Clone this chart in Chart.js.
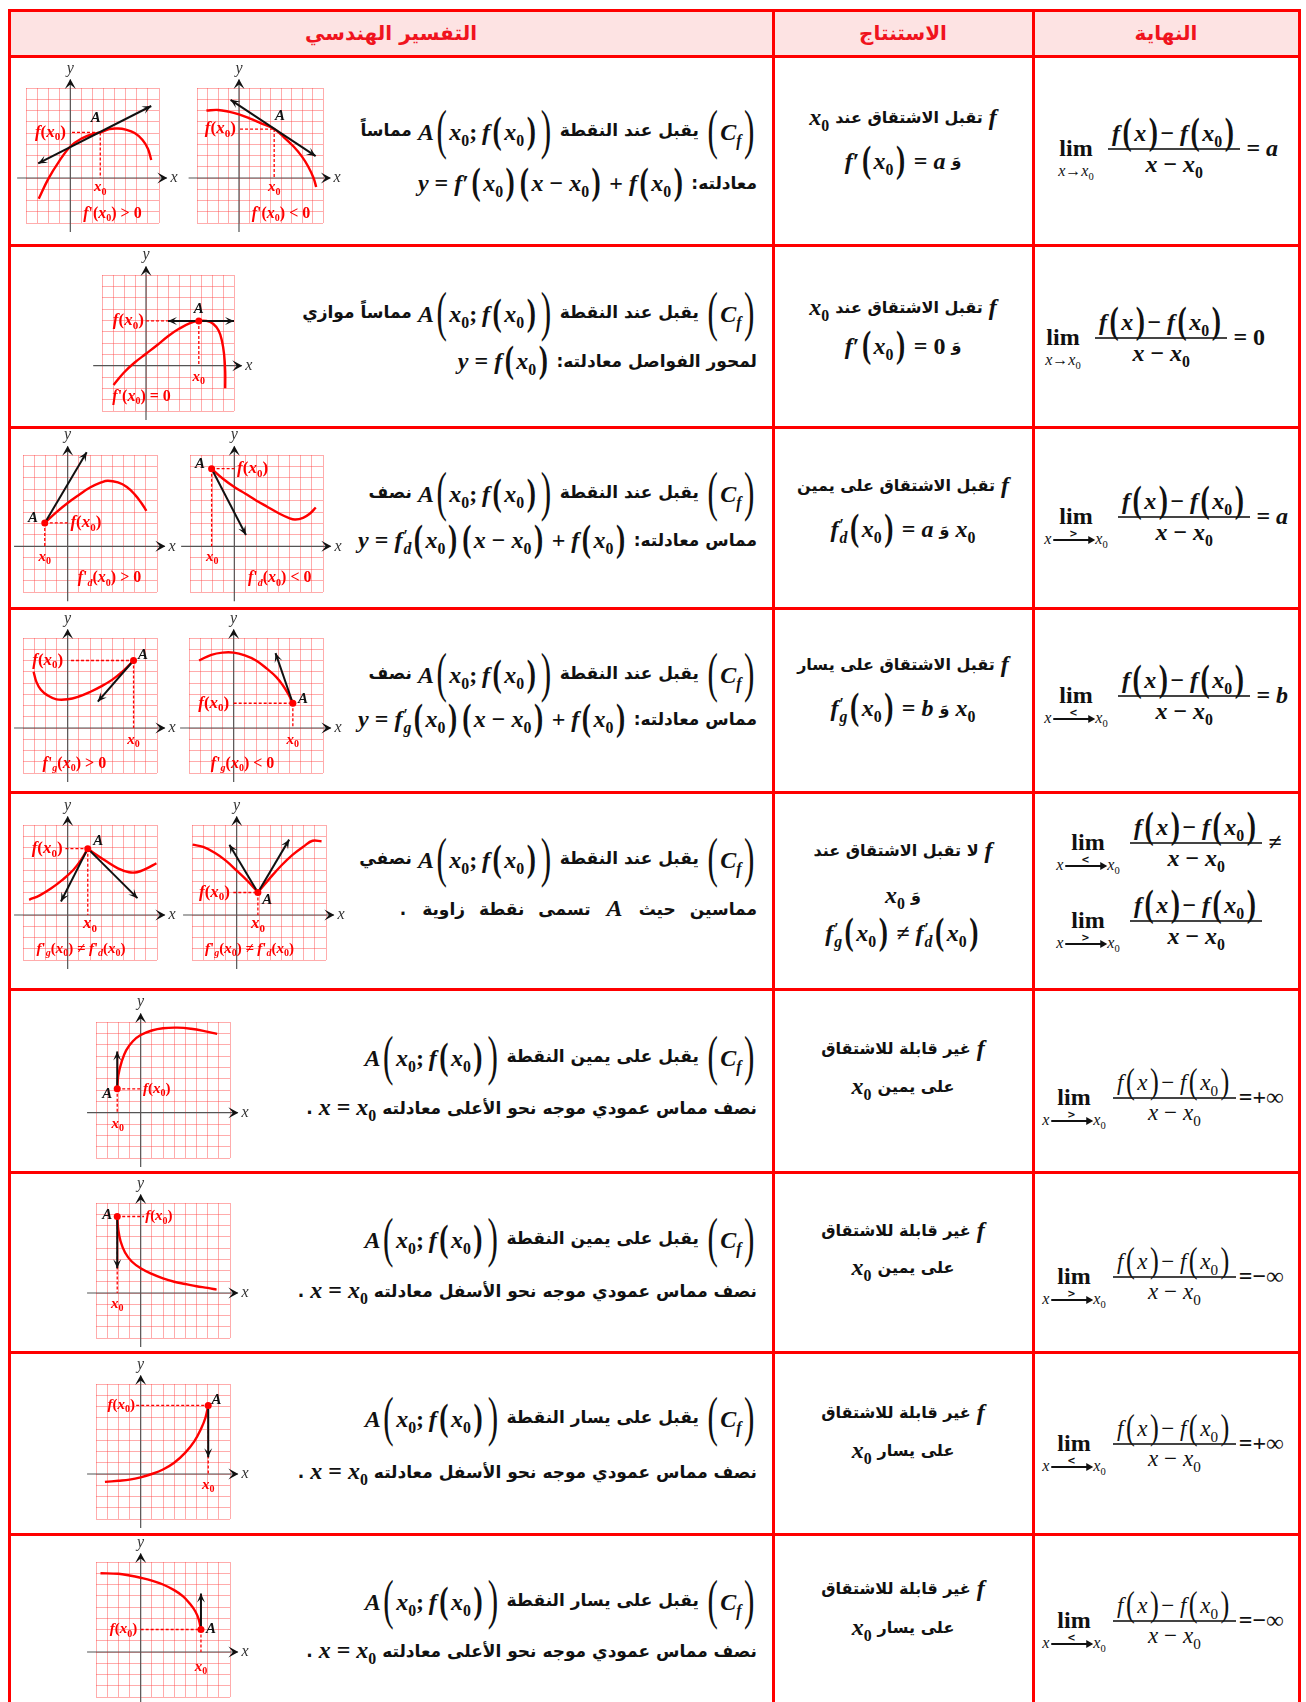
<!DOCTYPE html>
<html lang="ar">
<head>
<meta charset="utf-8">
<title>التفسير الهندسي للعدد المشتق</title>
<script src="https://cdn.jsdelivr.net/npm/chart.js@4.4.1/dist/chart.umd.min.js"></script>
<style>
  body { margin: 0; background: #fff; }
  #page { position: relative; width: 1306px; height: 1702px; overflow: hidden; background: #fff; }
  .rule { position: absolute; background: #ff0000; }
  .head { position: absolute; left: 9px; top: 10px; width: 1290px; height: 46px; background: #fde3e3; }
  .ht { position: absolute; top: 33px; transform: translate(-50%, -50%); color: #f0141e; font: bold 20px "DejaVu Sans"; direction: rtl; white-space: nowrap; }
  .ln { position: absolute; display: flex; align-items: center; gap: 6px; white-space: nowrap; direction: ltr; color: #111; }
  .ln.wide { gap: 16px; }
  .ln.wide .ar { word-spacing: 8px; }
  .ar { font: bold 17px "DejaVu Sans"; direction: rtl; unicode-bidi: isolate; }
  .mid .ar { font-size: 16px; }
  .m { font-family: "Liberation Serif"; font-weight: bold; font-size: 24px; }
  .m i, .ls i { font-style: italic; }
  .op { margin: 0 6px; }
  sub { font-size: 0.66em; vertical-align: -0.38em; line-height: 0; font-style: normal; }
  .pp { display: inline-block; font-weight: bold; font-style: normal; font-size: 1.15em; transform: scaleY(1.35); margin: 0 2.5px; line-height: 1; }
  .pp.big { transform: scaleY(1.75); font-size: 1.3em; font-weight: normal; }
  .dd { display: inline-flex; flex-direction: column; font-size: 0.66em; line-height: 0.85; vertical-align: middle; margin-left: 1px; }
  .lim { position: relative; display: inline-block; text-align: center; width: 52px; font: bold 24px "Liberation Serif"; }
  .lim.w { width: 72px; }
  .ls { position: absolute; left: 50%; top: 100%; transform: translateX(-50%); font: 16px "Liberation Serif"; white-space: nowrap; }
  .la { display: inline-block; position: relative; width: 40px; height: 1.4px; background: #111; vertical-align: middle; margin: 0 2px; }
  .la::after { content: ""; position: absolute; right: -2px; top: -3.3px; border-left: 7px solid #111; border-top: 4px solid transparent; border-bottom: 4px solid transparent; }
  .mk { position: absolute; left: 50%; bottom: 2px; transform: translateX(-50%); font: bold 10px "DejaVu Sans"; line-height: 1; }
  .fr { display: inline-flex; flex-direction: column; align-items: center; }
  .fn { padding: 0 4px 1px; border-bottom: 2px solid #444; }
  .fd { padding-top: 1px; }
  .fr.rg { font-size: 23px; }
  .rg .fn, .rg .fd, .rg .pp { font-weight: normal; }
  .ln.tight { gap: 3px; }
  canvas { position: absolute; }
</style>
</head>
<body>
<div id="page"></div>
<script>
// every small graph is drawn on the same squared paper (grid units)
const gridX = [-4, 8];
const gridY = [-4, 8];

// row 1 : tangent, f'(x0) > 0 and f'(x0) < 0
const curve1 = [[-2.85,-1.85],[-2,-0.1],[-1,1.5],[0,2.8],[1,3.5],[2,3.9],[2.7,4.05],[3.5,4.35],[4.3,4.4],[5,4.3],[5.8,4.0],[6.5,3.4],[7,2.6],[7.3,1.6]];
const tangent1 = [[-2.9,1.3],[7.3,6.4]];
const curve2 = [[-3.1,6.0],[-2,6.05],[-1,5.9],[0,5.65],[1,5.3],[2,4.9],[3.35,4.35],[4.3,3.6],[5.2,2.8],[6,1.9],[6.6,1.0],[7.1,0],[7.35,-0.8]];
const tangent2 = [[-0.8,6.95],[7.3,1.95]];

// row 2 : horizontal tangent
const curveH = [[-2.95,-1.7],[-2,-0.6],[-1,0.3],[0,1.05],[1,1.8],[2,2.6],[3,3.25],[4,3.75],[4.8,3.95],[5.5,3.95],[6.1,3.7],[6.6,3.1],[6.9,2.2],[7.1,1.0],[7.2,-0.5],[7.2,-2.0]];
const tangentH = [[2.0,3.95],[8.0,3.95]];

// row 3 : right half tangents
const curve3 = [[-2.05,2.05],[-1,3.0],[0,3.8],[1,4.5],[2,5.15],[3,5.6],[3.6,5.75],[4.5,5.6],[5.3,5.2],[6,4.55],[6.6,3.8],[7.05,3.1]];
const tangent3 = [[-2.05,2.05],[1.7,8.25]];
const curve4 = [[-2.05,6.8],[-1,5.9],[0,5.2],[1,4.6],[2,4.0],[3,3.45],[4,2.9],[5,2.45],[5.5,2.35],[6.2,2.5],[6.8,2.85],[7.35,3.4]];
const tangent4 = [[-2.05,6.8],[1.05,1.0]];

// row 4 : left half tangents
const curve5 = [[-3.05,5.0],[-2.8,4.1],[-2.4,3.4],[-1.8,2.9],[-1,2.55],[0,2.55],[1,2.8],[2,3.2],[3,3.7],[4,4.3],[5,5.1],[5.9,6.0]];
const tangent5 = [[5.9,6.0],[2.7,2.35]];
const curve6 = [[-3.1,6.0],[-2,6.5],[-1,6.7],[0,6.7],[1,6.45],[2,6.0],[3,5.25],[3.8,4.55],[4.4,3.8],[4.9,3.0],[5.3,2.2]];
const tangent6 = [[5.3,2.2],[3.75,6.65]];

// row 5 : corner points
const curve7L = [[-3.45,1.35],[-2.5,1.75],[-1.5,2.35],[-0.5,3.1],[0.5,4.0],[1.2,4.9],[1.8,5.9]];
const curve7R = [[1.8,5.9],[2.5,5.4],[3.5,4.75],[4.5,4.15],[5.5,3.8],[6.2,3.8],[7,4.1],[7.95,4.6]];
const tangent7L = [[1.8,5.9],[-0.6,1.2]];
const tangent7R = [[1.8,5.9],[6.25,1.5]];
const curve8L = [[-3.95,6.25],[-3,6.05],[-2,5.55],[-1,4.85],[0,3.95],[1,3.0],[1.9,2.0]];
const curve8R = [[1.9,2.0],[3,3.3],[4,4.4],[5,5.35],[6,6.1],[6.8,6.6],[7.6,6.55]];
const tangent8L = [[1.9,2.0],[-0.65,6.25]];
const tangent8R = [[1.9,2.0],[4.7,6.7]];

// rows 6 to 9 : vertical half tangents
const curveR6 = [[-2.1,2.1],[-2.0,3.3],[-1.7,4.5],[-1.3,5.5],[-0.7,6.3],[0,6.85],[1,7.25],[2,7.45],[3.3,7.5],[4.5,7.4],[5.7,7.2],[6.85,6.95]];
const tangentR6 = [[-2.1,2.1],[-2.1,5.4]];
const curveR7 = [[-2.1,6.8],[-2.0,5.6],[-1.8,4.6],[-1.4,3.6],[-0.8,2.8],[0,2.2],[1,1.7],[2,1.3],[3,1.0],[4,0.8],[5,0.6],[6,0.45],[6.8,0.3]];
const tangentR7 = [[-2.1,6.8],[-2.1,2.2]];
const curveR8 = [[-3.2,-0.7],[-2,-0.6],[-1,-0.5],[0,-0.3],[1,0],[2,0.4],[3,1.0],[4,1.9],[4.8,2.9],[5.4,4.0],[5.8,5.0],[6.05,6.1]];
const tangentR8 = [[6.05,6.1],[6.05,1.5]];
const curveR9 = [[-3.6,7.0],[-2,6.95],[-1,6.8],[0,6.6],[1,6.35],[2,6.0],[3,5.5],[3.8,4.95],[4.4,4.3],[4.9,3.6],[5.2,2.9],[5.4,2.0]];
const tangentR9 = [[5.4,2.0],[5.4,5.2]];

const RED = '#ff0000';
const page = document.getElementById('page');

// ---------- table frame ----------
function rule(x, y, w, h) {
  const d = document.createElement('div');
  d.className = 'rule';
  d.style.cssText = `left:${x}px;top:${y}px;width:${w}px;height:${h}px`;
  page.appendChild(d);
}
const head = document.createElement('div');
head.className = 'head';
page.appendChild(head);
[10, 56, 245, 427, 608, 792, 989, 1172, 1352, 1534].forEach(y => rule(8, y - 1, 1293, 3));
[9, 773, 1033, 1299].forEach(x => rule(x - 1, 9, 3, 1700));

function headText(txt, x) {
  const d = document.createElement('div');
  d.className = 'ht';
  d.textContent = txt;
  d.style.left = x + 'px';
  page.appendChild(d);
}
headText('التفسير الهندسي', 391);
headText('الاستنتاج', 903);
headText('النهاية', 1166);

// ---------- text lines ----------
function put(html, x, y, anchor, cls) {
  const d = document.createElement('div');
  d.className = 'ln' + (cls ? ' ' + cls : '');
  d.innerHTML = html;
  d.style.left = x + 'px';
  d.style.top = y + 'px';
  d.style.transform = anchor === 'right' ? 'translate(-100%,-50%)'
                    : anchor === 'left' ? 'translate(0,-50%)' : 'translate(-50%,-50%)';
  page.appendChild(d);
}
const X0 = '<i>x</i><sub>0</sub>';
const OP = s => `<span class="op">${s}</span>`;
const P = (s, big) => `<span class="pp${big ? ' big' : ''}">(</span>${s}<span class="pp${big ? ' big' : ''}">)</span>`;
const M = s => `<span class="m">${s}</span>`;
const AR = s => `<span class="ar">${s}</span>`;
const FP = s => `<i>f</i><span class="dd"><span>′</span><i>${s}</i></span>`;
const CF = M(P('<i>C</i><sub><i>f</i></sub>', true));
const APT = M('<i>A</i>' + P(X0 + ';&thinsp;<i>f</i>' + P(X0), true));
const TAN = d => M('<i>y</i>' + OP('=') + (d ? FP(d) : '<i>f</i>′') + P(X0) + P('<i>x</i>' + OP('−') + X0) + OP('+') + '<i>f</i>' + P(X0));

// geometric interpretation column
const RX = 757;
put(AR('مماساً') + APT + AR('يقبل عند النقطة') + CF, RX, 130, 'right');
put(TAN('') + AR('معادلته:'), RX, 182, 'right');
put(AR('مماساً موازي') + APT + AR('يقبل عند النقطة') + CF, RX, 312, 'right');
put(M('<i>y</i>' + OP('=') + '<i>f</i>' + P(X0)) + AR('لمحور الفواصل معادلته:'), RX, 360, 'right');
put(AR('نصف') + APT + AR('يقبل عند النقطة') + CF, RX, 492, 'right');
put(TAN('d') + AR('مماس معادلته:'), RX, 540, 'right');
put(AR('نصف') + APT + AR('يقبل عند النقطة') + CF, RX, 673, 'right');
put(TAN('g') + AR('مماس معادلته:'), RX, 719, 'right');
put(AR('نصفي') + APT + AR('يقبل عند النقطة') + CF, RX, 858, 'right');
put(AR('.') + AR('تسمى نقطة زاوية') + M('<i>A</i>') + AR('مماسين حيث'), RX, 908, 'right', 'wide');
put(APT + AR('يقبل على يمين النقطة') + CF, RX, 1056, 'right');
put(AR('.') + M('<i>x</i>' + OP('=') + X0) + AR('نصف مماس عمودي موجه نحو الأعلى معادلته'), RX, 1107, 'right');
put(APT + AR('يقبل على يمين النقطة') + CF, RX, 1238, 'right');
put(AR('.') + M('<i>x</i>' + OP('=') + X0) + AR('نصف مماس عمودي موجه نحو الأسفل معادلته'), RX, 1290, 'right');
put(APT + AR('يقبل على يسار النقطة') + CF, RX, 1417, 'right');
put(AR('.') + M('<i>x</i>' + OP('=') + X0) + AR('نصف مماس عمودي موجه نحو الأسفل معادلته'), RX, 1471, 'right');
put(APT + AR('يقبل على يسار النقطة') + CF, RX, 1600, 'right');
put(AR('.') + M('<i>x</i>' + OP('=') + X0) + AR('نصف مماس عمودي موجه نحو الأعلى معادلته'), RX, 1650, 'right');

// conclusion column
const MX = 903;
const mid = (html, y) => put(html, MX, y, 'center', 'mid');
mid(M(X0) + AR('تقبل الاشتقاق عند') + M('<i>f</i>'), 117);
mid(M('<i>f</i>′' + P(X0) + OP('=') + '<i>a</i>') + AR('وَ'), 160);
mid(M(X0) + AR('تقبل الاشتقاق عند') + M('<i>f</i>'), 307);
mid(M('<i>f</i>′' + P(X0) + OP('=') + '0') + AR('وَ'), 345);
mid(AR('تقبل الاشتقاق على يمين') + M('<i>f</i>'), 485);
mid(M(FP('d') + P(X0) + OP('=') + '<i>a</i>') + AR('وَ') + M(X0), 529);
mid(AR('تقبل الاشتقاق على يسار') + M('<i>f</i>'), 664);
mid(M(FP('g') + P(X0) + OP('=') + '<i>b</i>') + AR('وَ') + M(X0), 708);
mid(AR('لا تقبل الاشتقاق عند') + M('<i>f</i>'), 850);
mid(M(X0) + AR('وَ'), 895);
mid(M(FP('g') + P(X0) + OP('≠') + FP('d') + P(X0)), 933);
mid(AR('غير قابلة للاشتقاق') + M('<i>f</i>'), 1048);
mid(M(X0) + AR('على يمين'), 1086);
mid(AR('غير قابلة للاشتقاق') + M('<i>f</i>'), 1230);
mid(M(X0) + AR('على يمين'), 1267);
mid(AR('غير قابلة للاشتقاق') + M('<i>f</i>'), 1412);
mid(M(X0) + AR('على يسار'), 1450);
mid(AR('غير قابلة للاشتقاق') + M('<i>f</i>'), 1588);
mid(M(X0) + AR('على يسار'), 1627);

// limit column
const NUM = '<i>f</i>' + P('<i>x</i>') + '− <i>f</i>' + P(X0);
const DEN = '<i>x</i>' + OP('−') + X0;
const SUB0 = '<i>x</i>→' + X0;
const SUBR = '<i>x</i><span class="la"><span class="mk">&gt;</span></span>' + X0;
const SUBL = '<i>x</i><span class="la"><span class="mk">&lt;</span></span>' + X0;
const LIM = (sub, wide) => `<span class="lim${wide ? ' w' : ''}">lim<span class="ls">${sub}</span></span>`;
const FR = cls => `<span class="fr m ${cls || ''}"><span class="fn">${NUM}</span><span class="fd">${DEN}</span></span>`;
put(LIM(SUB0) + FR() + M('= <i>a</i>'), 1050, 148, 'left');
put(LIM(SUB0) + FR() + M('= 0'), 1037, 337, 'left');
put(LIM(SUBR, true) + FR() + M('= <i>a</i>'), 1040, 516, 'left');
put(LIM(SUBL, true) + FR() + M('= <i>b</i>'), 1040, 695, 'left');
put(LIM(SUBL, true) + FR() + M('≠'), 1052, 842, 'left');
put(LIM(SUBR, true) + FR(), 1052, 920, 'left');
put(LIM(SUBR, true) + FR('rg') + M('=+∞'), 1038, 1097, 'left', 'tight');
put(LIM(SUBR, true) + FR('rg') + M('=−∞'), 1038, 1276, 'left', 'tight');
put(LIM(SUBL, true) + FR('rg') + M('=+∞'), 1038, 1443, 'left', 'tight');
put(LIM(SUBL, true) + FR('rg') + M('=−∞'), 1038, 1620, 'left', 'tight');

// ---------- small graphs ----------
const L = (t, x, y, align, color, size, bold) =>
  ({ t, x, y, align: align || 'center', color: color || RED, size: size || 15, bold: bold !== false });

const graphs = [
  { box: [26, 88, 133, 135], curves: [curve1], tangents: [[tangent1, 'both']], dot: null,
    dashH: [0.15, 2.7, 4.05], dashV: [2.7, 4.05],
    labels: [L('f(x_0)', -0.4, 4.05, 'right', RED, 17), L('A', 2.3, 5.3, 'center', '#111'),
             L('x_0', 2.7, -0.85), L("f'(x_0) > 0", 3.8, -3.2, 'center', RED, 16)] },
  { box: [197, 88, 126, 135], curves: [curve2], tangents: [[tangent2, 'both']], dot: null,
    dashH: [0.1, 3.35, 4.35], dashV: [3.35, 4.35],
    labels: [L('f(x_0)', -0.3, 4.35, 'right', RED, 17), L('A', 3.9, 5.5, 'center', '#111'),
             L('x_0', 3.35, -0.85), L("f'(x_0) < 0", 4.0, -3.2, 'center', RED, 16)] },
  { box: [102, 275, 132, 136], curves: [curveH], tangents: [[tangentH, 'both']], dot: [4.8, 3.95],
    dashH: [0.0, 2.0, 3.95], dashV: [4.8, 3.95],
    labels: [L('f(x_0)', -0.2, 3.95, 'right', RED, 17), L('A', 4.8, 5.0, 'center', '#111'),
             L('x_0', 4.8, -1.0), L("f'(x_0) = 0", -0.4, -2.75, 'center', RED, 16)] },
  { box: [23, 455, 134, 137], curves: [curve3], tangents: [[tangent3, 'end']], dot: [-2.05, 2.05],
    dashH: [-2.05, 0.2, 2.05], dashV: [-2.05, 2.05],
    labels: [L('A', -3.1, 2.45, 'center', '#111'), L('f(x_0)', 0.25, 2.05, 'left', RED, 17),
             L('x_0', -2.05, -0.95), L("f'_d(x_0) > 0", 3.75, -2.8, 'center', RED, 16)] },
  { box: [190, 455, 133, 137], curves: [curve4], tangents: [[tangent4, 'end']], dot: [-2.05, 6.8],
    dashH: [-2.05, 0.2, 6.8], dashV: [-2.05, 6.8],
    labels: [L('A', -3.1, 7.2, 'center', '#111'), L('f(x_0)', 0.25, 6.8, 'left', RED, 17),
             L('x_0', -2.0, -0.95), L("f'_d(x_0) < 0", 4.1, -2.8, 'center', RED, 16)] },
  { box: [23, 638, 134, 135], curves: [curve5], tangents: [[tangent5, 'end']], dot: [5.9, 6.0],
    dashH: [0.3, 5.9, 6.0], dashV: [5.9, 6.0],
    labels: [L('f(x_0)', -0.4, 6.0, 'right', RED, 17), L('A', 6.75, 6.5, 'center', '#111'),
             L('x_0', 5.9, -1.1), L("f'_g(x_0) > 0", 0.6, -3.2, 'center', RED, 16)] },
  { box: [189, 638, 134, 135], curves: [curve6], tangents: [[tangent6, 'end']], dot: [5.3, 2.2],
    dashH: [0.0, 5.3, 2.2], dashV: [5.3, 2.2],
    labels: [L('f(x_0)', -0.4, 2.2, 'right', RED, 17), L('A', 6.2, 2.55, 'center', '#111'),
             L('x_0', 5.3, -1.1), L("f'_g(x_0) < 0", 0.8, -3.2, 'center', RED, 16)] },
  { box: [23, 825, 134, 135], curves: [curve7L, curve7R], tangents: [[tangent7L, 'end'], [tangent7R, 'end']], dot: [1.8, 5.9],
    dashH: [-0.2, 1.8, 5.9], dashV: [1.8, 5.9],
    labels: [L('f(x_0)', -0.45, 5.9, 'right', RED, 17), L('A', 2.75, 6.6, 'center', '#111'),
             L('x_0', 2.0, -0.8, 'center', RED, 17), L("f'_g(x_0) ≠ f'_d(x_0)", 1.2, -3.0, 'center', RED, 15)] },
  { box: [192, 825, 134, 135], curves: [curve8L, curve8R], tangents: [[tangent8L, 'end'], [tangent8R, 'end']], dot: [1.9, 2.0],
    dashH: [-0.3, 1.9, 2.0], dashV: [1.9, 2.0],
    labels: [L('f(x_0)', -0.6, 2.0, 'right', RED, 17), L('A', 2.75, 1.3, 'center', '#111'),
             L('x_0', 1.9, -0.8, 'center', RED, 17), L("f'_g(x_0) ≠ f'_d(x_0)", 1.15, -3.0, 'center', RED, 15)] },
  { box: [96, 1022, 134, 136], curves: [curveR6], tangents: [[tangentR6, 'end']], dot: [-2.1, 2.1],
    dashH: [-2.1, 0.1, 2.1], dashV: [-2.1, 2.1],
    labels: [L('A', -3.0, 1.6, 'center', '#111'), L('f(x_0)', 0.2, 2.1, 'left', RED, 15), L('x_0', -2.05, -1.0)] },
  { box: [96, 1203, 134, 135], curves: [curveR7], tangents: [[tangentR7, 'end']], dot: [-2.1, 6.8],
    dashH: [-2.1, 0.3, 6.8], dashV: [-2.1, 6.8],
    labels: [L('A', -3.0, 6.9, 'center', '#111'), L('f(x_0)', 0.4, 6.8, 'left', RED, 15), L('x_0', -2.1, -1.0)] },
  { box: [96, 1384, 134, 135], curves: [curveR8], tangents: [[tangentR8, 'end']], dot: [6.05, 6.1],
    dashH: [-0.4, 6.05, 6.1], dashV: [6.05, 6.1],
    labels: [L('f(x_0)', -0.5, 6.1, 'right', RED, 15), L('A', 6.8, 6.6, 'center', '#111'), L('x_0', 6.05, -1.0)] },
  { box: [96, 1562, 134, 135], curves: [curveR9], tangents: [[tangentR9, 'end']], dot: [5.4, 2.0],
    dashH: [0.0, 5.4, 2.0], dashV: [5.4, 2.0],
    labels: [L('f(x_0)', -0.3, 2.0, 'right', RED, 15), L('A', 6.3, 2.0, 'center', '#111'), L('x_0', 5.4, -1.3)] }
];

// text with single-character subscripts written as _c
function drawRich(ctx, lab, x, y) {
  const runs = [];
  for (let i = 0; i < lab.t.length; i++) {
    let c = lab.t[i], sub = false;
    if (c === '_') { c = lab.t[++i]; sub = true; }
    runs.push({ c, sub });
  }
  const fontOf = r => {
    const s = r.sub ? Math.round(lab.size * 0.65) : lab.size;
    return `${/[a-zA-Z]/.test(r.c) ? 'italic ' : ''}${lab.bold ? 'bold ' : ''}${s}px "Liberation Serif"`;
  };
  let total = 0;
  runs.forEach(r => { ctx.font = fontOf(r); r.w = ctx.measureText(r.c).width; total += r.w; });
  let cx = lab.align === 'right' ? x - total : lab.align === 'center' ? x - total / 2 : x;
  ctx.fillStyle = lab.color;
  ctx.textBaseline = 'middle';
  ctx.textAlign = 'left';
  runs.forEach(r => {
    ctx.font = fontOf(r);
    ctx.fillText(r.c, cx, y + (r.sub ? lab.size * 0.3 : 0));
    cx += r.w;
  });
}

function arrowHead(ctx, x1, y1, x2, y2, len, half) {
  const a = Math.atan2(y2 - y1, x2 - x1), c = Math.cos(a), s = Math.sin(a);
  ctx.beginPath();
  ctx.moveTo(x2, y2);
  ctx.lineTo(x2 - len * c + half * s, y2 - len * s - half * c);
  ctx.lineTo(x2 - len * 0.55 * c, y2 - len * 0.55 * s);
  ctx.lineTo(x2 - len * c - half * s, y2 - len * s + half * c);
  ctx.closePath();
  ctx.fill();
}

function decor(g) {
  return {
    id: 'decor',
    beforeDatasetsDraw(chart) {
      const ctx = chart.ctx, xs = chart.scales.x, ys = chart.scales.y;
      const px = v => xs.getPixelForValue(v), py = v => ys.getPixelForValue(v);
      ctx.save();
      ctx.strokeStyle = '#555';
      ctx.fillStyle = '#111';
      ctx.lineWidth = 1.2;
      ctx.beginPath();
      ctx.moveTo(px(gridX[0] - 0.8), py(0));
      ctx.lineTo(px(gridX[1] + 0.7), py(0));
      ctx.moveTo(px(0), py(gridY[0] - 0.8));
      ctx.lineTo(px(0), py(gridY[1] + 0.75));
      ctx.stroke();
      arrowHead(ctx, px(0), py(0), px(gridX[1] + 0.75), py(0), 10, 5.5);
      arrowHead(ctx, px(0), py(0), px(0), py(gridY[1] + 0.8), 10, 5.5);
      drawRich(ctx, L('x', 0, 0, 'center', '#333', 16, false), px(gridX[1] + 1.35), py(0));
      drawRich(ctx, L('y', 0, 0, 'center', '#333', 16, false), px(0), py(gridY[1] + 1.75));
      ctx.restore();
    },
    afterDatasetsDraw(chart) {
      const ctx = chart.ctx, xs = chart.scales.x, ys = chart.scales.y;
      const px = v => xs.getPixelForValue(v), py = v => ys.getPixelForValue(v);
      ctx.save();
      ctx.fillStyle = '#111';
      g.tangents.forEach(([t, heads]) => {
        const [a, b] = t;
        arrowHead(ctx, px(a[0]), py(a[1]), px(b[0]), py(b[1]), 9, 4);
        if (heads === 'both') arrowHead(ctx, px(b[0]), py(b[1]), px(a[0]), py(a[1]), 9, 4);
      });
      g.labels.forEach(lab => drawRich(ctx, lab, px(lab.x), py(lab.y)));
      ctx.restore();
    }
  };
}

function makeGraph(g) {
  const [gl, gt, gw, gh] = g.box;
  const pad = { left: 14, right: 28, top: 30, bottom: 14 };
  const cv = document.createElement('canvas');
  cv.width = gw + pad.left + pad.right;
  cv.height = gh + pad.top + pad.bottom;
  cv.style.left = (gl - pad.left) + 'px';
  cv.style.top = (gt - pad.top) + 'px';
  cv.style.width = cv.width + 'px';
  cv.style.height = cv.height + 'px';
  page.appendChild(cv);

  const pts = arr => arr.map(([x, y]) => ({ x, y }));
  const ds = [];
  if (g.dot) ds.push({ data: pts([g.dot]), pointRadius: 3.5, pointBackgroundColor: RED, pointBorderWidth: 0, showLine: false });
  g.tangents.forEach(([t]) => ds.push({ data: pts(t), showLine: true, borderColor: '#111', borderWidth: 2, pointRadius: 0, tension: 0 }));
  g.curves.forEach(c => ds.push({ data: pts(c), showLine: true, borderColor: RED, borderWidth: 2.4, pointRadius: 0, tension: 0.4 }));
  const [hx1, hx2, hy] = g.dashH, [vx, vy] = g.dashV;
  ds.push({ data: [{ x: hx1, y: hy }, { x: hx2, y: hy }], showLine: true, borderColor: RED, borderWidth: 1.3, borderDash: [3, 2], pointRadius: 0 });
  ds.push({ data: [{ x: vx, y: vy }, { x: vx, y: 0 }], showLine: true, borderColor: RED, borderWidth: 1.3, borderDash: [3, 2], pointRadius: 0 });

  const axis = (min, max) => ({
    type: 'linear', min, max,
    ticks: { display: false, stepSize: 1, maxTicksLimit: 50 },
    grid: { color: 'rgba(255,70,70,0.45)', lineWidth: 1, drawTicks: false },
    border: { display: false }
  });
  new Chart(cv, {
    type: 'scatter',
    data: { datasets: ds.map(d => Object.assign({ clip: false }, d)) },
    options: {
      responsive: false,
      animation: false,
      devicePixelRatio: 1,
      events: [],
      layout: { padding: pad },
      plugins: { legend: { display: false }, tooltip: { enabled: false } },
      scales: { x: axis(gridX[0], gridX[1]), y: axis(gridY[0], gridY[1]) }
    },
    plugins: [decor(g)]
  });
}

graphs.forEach(makeGraph);
</script>
</body>
</html>
